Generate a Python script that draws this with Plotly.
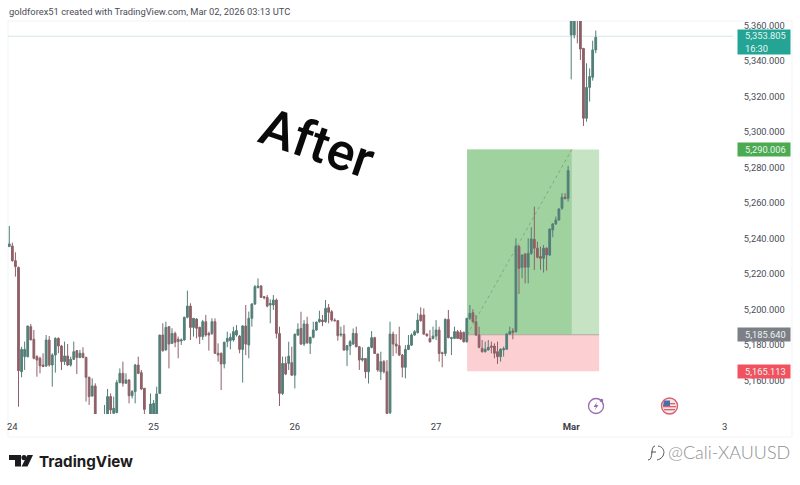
import plotly.graph_objects as go

opens = [5235.3,5235.6,5227.4,5223.6,5164.8,5173.3,5173.3,5190.2,5183.1,5173.3,
5172.4,5168.6,5168.0,5182.7,5168.6,5174.2,5183.6,5179.3,5170.5,5173.7,
5168.6,5171.8,5176.7,5172.9,5175.2,5172.9,5161.7,5151.1,5156.8,5135.0,
5131.0,5135.0,5139.5,5150.8,5141.4,5141.8,5158.7,5163.9,5158.3,5160.2,
5151.3,5153.6,5168.6,5164.3,5155.5,5138.0,5137.5,5138.0,5138.0,5152.6,
5185.5,5177.1,5190.2,5180.8,5186.4,5183.1,5182.1,5182.7,5195.5,5201.8,
5189.8,5194.5,5189.8,5184.6,5193.0,5186.4,5186.4,5193.0,5175.2,5175.2,
5169.2,5181.8,5182.3,5182.7,5185.5,5184.9,5177.4,5190.6,5179.9,5194.9,
5203.0,5212.2,5213.1,5207.1,5206.7,5202.4,5202.4,5205.2,5186.4,5152.6,
5169.5,5169.5,5169.9,5162.9,5185.5,5189.2,5180.4,5191.7,5180.8,5184.2,
5188.3,5193.0,5193.9,5193.0,5200.9,5198.6,5193.9,5193.6,5185.5,5186.0,
5177.0,5179.3,5180.4,5186.4,5178.9,5171.4,5172.3,5164.8,5178.5,5184.0,
5174.8,5164.8,5170.5,5164.8,5141.7,5186.0,5180.4,5179.5,5174.2,5167.3,
5177.4,5179.8,5185.5,5186.8,5196.8,5196.8,5186.0,5183.6,5183.6,5184.9,
5188.3,5175.5,5175.1,5194.3,5183.6,5183.6,5187.4,5187.0,5187.0,5181.7,
5194.9,5198.1,5193.0,5185.5,5178.0,5176.1,5177.1,5179.3,5179.3,5176.1,
5173.3,5177.1,5177.5,5186.1,5187.8,5187.4,5235.3,5223.7,5231.2,5223.7,
5231.5,5239.4,5234.4,5229.7,5228.7,5234.4,5230.6,5244.7,5248.1,5250.3,
5256.9,5263.1,5262.5,5354.5,5354.5,5368.0,5366.0,5347.0,5307.6,5325.0,
5330.7,5346.1]

highs = [5246.9,5237.5,5232.1,5224.0,5178.9,5181.8,5190.6,5191.7,5188.3,5174.2,
5173.3,5175.2,5185.5,5184.9,5175.2,5184.2,5184.2,5179.9,5181.8,5180.4,
5173.3,5181.8,5177.1,5177.1,5178.6,5173.3,5162.0,5161.1,5158.3,5139.0,
5138.0,5146.1,5155.1,5152.6,5150.8,5160.2,5166.7,5170.5,5163.9,5160.5,
5154.5,5169.2,5173.3,5165.8,5155.5,5140.0,5152.6,5148.9,5156.4,5185.5,
5192.1,5193.0,5190.2,5189.3,5187.4,5184.6,5183.6,5195.8,5210.5,5203.4,
5194.9,5194.9,5190.2,5194.0,5196.8,5187.4,5194.9,5194.9,5180.8,5175.6,
5181.8,5187.4,5186.4,5190.2,5191.1,5185.5,5191.1,5202.4,5198.7,5203.4,
5213.7,5217.4,5213.7,5207.5,5208.0,5205.6,5208.0,5206.1,5190.2,5173.3,
5173.3,5181.7,5178.9,5186.4,5192.1,5198.6,5193.9,5195.8,5184.5,5193.0,
5193.0,5199.2,5196.8,5205.2,5203.0,5199.6,5194.9,5193.9,5190.2,5191.1,
5179.8,5182.7,5189.2,5190.2,5179.3,5178.5,5172.3,5178.9,5187.7,5184.5,
5175.1,5176.1,5171.4,5171.4,5193.0,5187.4,5186.0,5190.2,5174.8,5179.8,
5185.5,5186.4,5188.3,5197.7,5201.1,5200.5,5186.4,5188.3,5190.2,5193.9,
5190.2,5176.1,5194.9,5199.6,5184.5,5190.2,5188.3,5188.3,5187.4,5194.9,
5202.4,5200.0,5196.8,5190.2,5182.7,5181.8,5182.7,5181.8,5180.8,5181.8,
5178.0,5179.0,5186.5,5190.2,5189.3,5240.0,5236.2,5230.6,5231.5,5240.0,
5246.2,5257.8,5238.1,5235.3,5236.2,5234.9,5245.6,5248.5,5252.2,5256.9,
5265.4,5265.4,5280.8,5372.0,5374.0,5373.0,5369.0,5347.0,5338.6,5335.7,
5351.3,5357.0]

lows = [5235.3,5226.8,5218.4,5145.1,5161.7,5165.8,5172.9,5182.7,5171.8,5162.0,
5163.9,5167.7,5167.7,5167.7,5156.4,5164.3,5175.2,5165.8,5168.6,5168.0,
5167.7,5171.4,5163.5,5172.4,5172.4,5148.0,5146.1,5150.8,5132.0,5128.0,
5127.0,5132.0,5137.0,5138.0,5140.0,5141.4,5158.3,5156.4,5158.3,5147.0,
5149.8,5147.0,5163.5,5154.5,5139.5,5132.0,5137.0,5136.0,5136.0,5152.6,
5176.1,5176.7,5166.7,5180.4,5178.6,5172.4,5179.9,5182.3,5194.9,5182.7,
5184.6,5183.6,5180.4,5182.7,5184.6,5176.7,5185.5,5174.8,5170.5,5154.5,
5166.7,5178.6,5177.4,5181.8,5184.6,5175.2,5158.7,5174.2,5172.4,5190.2,
5202.4,5211.8,5206.7,5205.6,5201.1,5192.1,5199.6,5183.6,5145.5,5151.7,
5162.9,5165.8,5162.4,5155.4,5184.9,5179.8,5179.3,5180.4,5174.8,5183.6,
5187.9,5192.4,5190.5,5192.4,5192.1,5193.0,5193.0,5182.3,5184.5,5176.7,
5168.0,5174.2,5179.8,5178.5,5165.8,5170.5,5161.1,5158.2,5178.0,5174.8,
5164.8,5160.1,5163.9,5140.4,5141.0,5173.6,5175.1,5173.6,5161.6,5161.1,
5177.0,5179.3,5185.1,5186.4,5193.0,5185.5,5184.5,5181.2,5183.0,5182.7,
5170.5,5167.3,5173.6,5183.6,5174.2,5183.2,5183.2,5182.7,5181.2,5181.2,
5194.0,5192.5,5185.0,5178.0,5175.6,5175.6,5176.7,5175.2,5172.4,5169.2,
5170.5,5173.3,5177.1,5185.5,5183.1,5186.9,5208.6,5217.5,5214.6,5214.6,
5230.6,5222.2,5228.7,5222.2,5220.7,5221.8,5230.0,5240.6,5247.5,5249.9,
5256.0,5262.0,5260.7,5329.5,5352.6,5349.8,5340.4,5303.3,5305.7,5317.0,
5328.8,5344.2]

closes = [5236.8,5227.4,5224.0,5165.4,5177.4,5177.4,5190.6,5182.7,5172.4,5171.4,
5168.2,5167.7,5182.7,5168.6,5174.2,5183.6,5179.3,5170.5,5173.7,5168.6,
5171.8,5176.1,5172.9,5175.2,5172.9,5161.7,5150.8,5156.8,5135.0,5131.0,
5136.0,5138.0,5150.8,5143.3,5144.2,5158.7,5163.9,5158.3,5160.2,5151.3,
5153.6,5168.6,5163.9,5155.1,5143.6,5134.0,5146.6,5147.0,5152.3,5185.5,
5176.7,5189.8,5180.4,5186.4,5181.4,5181.8,5182.7,5195.5,5201.8,5189.8,
5194.9,5189.3,5184.6,5193.0,5185.5,5185.5,5193.0,5175.2,5174.2,5169.2,
5181.4,5183.6,5184.2,5187.4,5188.0,5177.4,5190.6,5180.4,5194.9,5203.0,
5212.7,5213.1,5206.7,5206.5,5201.8,5203.3,5205.2,5186.4,5152.6,5169.5,
5163.5,5173.6,5162.9,5185.9,5188.7,5180.4,5191.7,5181.2,5184.2,5188.3,
5192.8,5194.3,5193.0,5200.5,5198.3,5193.9,5193.6,5185.1,5186.0,5177.0,
5179.5,5181.7,5186.4,5178.9,5171.4,5172.3,5164.8,5178.5,5184.0,5175.1,
5165.8,5170.5,5164.8,5141.3,5186.0,5180.4,5179.3,5174.2,5167.3,5177.4,
5179.8,5185.5,5187.4,5193.9,5193.6,5186.0,5185.1,5181.7,5184.9,5188.3,
5175.1,5175.1,5194.3,5184.0,5184.0,5187.4,5183.6,5183.2,5181.7,5194.9,
5197.7,5193.0,5185.5,5178.6,5176.1,5177.5,5178.6,5178.6,5175.2,5173.3,
5177.5,5177.8,5186.1,5187.4,5186.9,5235.7,5223.1,5230.6,5223.7,5231.5,
5239.6,5234.4,5229.3,5228.7,5234.4,5230.6,5245.1,5248.1,5250.3,5256.5,
5263.1,5262.3,5278.1,5368.0,5370.0,5366.0,5346.6,5307.6,5325.0,5331.1,
5346.1,5353.2]

bars = list(range(len(opens)))
y_ticks = [5160, 5180, 5200, 5220, 5240, 5260, 5280, 5300, 5320, 5340, 5360]
x_tick_bars = [1, 47, 93, 139, 183, 233]
x_tick_text = ["24", "25", "26", "27", "<b>Mar</b>", "3"]

last_price = 5353.805
target_price = 5290.006
entry_price = 5185.640
stop_price = 5165.113
box_start, box_mid, box_end = 149.1, 183.2, 192.1

PL, PR, PT, PB = 8, 733, 21, 414
def X(px): return (px - PL) / (PR - PL)
def Y(py): return 1 - (py - PT) / (PB - PT)

fig = go.Figure(go.Candlestick(
    x=bars, open=opens, high=highs, low=lows, close=closes,
    increasing=dict(line=dict(color="#527f78", width=1), fillcolor="#527f78"),
    decreasing=dict(line=dict(color="#8f6067", width=1), fillcolor="#8f6067"),
    whiskerwidth=0, showlegend=False, hoverinfo="skip"))

shapes = [
    dict(type="rect", x0=box_start, x1=box_end, y0=entry_price, y1=target_price,
         fillcolor="#c6e4c4", line_width=0, layer="below"),
    dict(type="rect", x0=box_start, x1=box_mid, y0=entry_price, y1=target_price,
         fillcolor="#a0d2a0", line_width=0, layer="below"),
    dict(type="rect", x0=box_start, x1=box_end, y0=stop_price, y1=entry_price,
         fillcolor="#fcd0d3", line_width=0, layer="below"),
    dict(type="line", x0=box_start, x1=box_end, y0=entry_price, y1=entry_price,
         line=dict(color="#b0a8a0", width=1), layer="below"),
    dict(type="line", x0=box_start, x1=box_mid, y0=entry_price, y1=target_price,
         line=dict(color="#7fa882", width=1, dash="dot"), layer="below"),
    dict(type="line", x0=-0.42, x1=235.7, y0=last_price, y1=last_price,
         line=dict(color="#cfe9e5", width=1), layer="below"),
]
# chart frame
frame = "#f1f3f8"
for a, b, c, d in [(8, 21, 792, 21), (8, 437, 792, 437), (8, 21, 8, 437), (792, 21, 792, 437)]:
    shapes.append(dict(type="line", xref="paper", yref="paper", x0=X(a), x1=X(c), y0=Y(b), y1=Y(d),
                       line=dict(color=frame, width=1), layer="below"))

def path(points, **kw):
    d = "M " + " L ".join(f"{X(x)} {Y(y)}" for x, y in points) + " Z"
    return dict(type="path", xref="paper", yref="paper", path=d, line_width=0, **kw)

def circle(cx, cy, r, **kw):
    return dict(type="circle", xref="paper", yref="paper", x0=X(cx - r), x1=X(cx + r),
                y0=Y(cy + r), y1=Y(cy - r), **kw)

# TradingView logo
ink = "#1c1c20"
shapes += [
    path([(9, 455), (21, 455), (21, 466.5), (15, 466.5), (15, 460), (9, 460)], fillcolor=ink),
    circle(24, 457.6, 2.6, fillcolor=ink, line_width=0),
    path([(27.5, 455), (33, 455), (27.5, 466.5), (21.5, 466.5)], fillcolor=ink),
]
# event icons
purple = "#9a6bb0"
shapes += [
    circle(596, 406, 7.5, line=dict(color=purple, width=1.3), fillcolor="white"),
    path([(597.5, 401.5), (593.5, 407), (596, 407), (594.5, 410.5), (598.5, 405), (596, 405)], fillcolor=purple),
    circle(601.5, 400.5, 1.8, fillcolor=purple, line_width=0),
    circle(669.5, 406, 8, line=dict(color="#d9606c", width=1.4), fillcolor="#f6e6e8"),
    path([(664, 403), (675, 403), (675, 404.3), (664, 404.3)], fillcolor="#d9606c"),
    path([(663, 406), (676, 406), (676, 407.3), (663, 407.3)], fillcolor="#d9606c"),
    path([(664, 409), (675, 409), (675, 410.3), (664, 410.3)], fillcolor="#d9606c"),
    path([(664, 400.5), (670, 400.5), (670, 406), (663, 406)], fillcolor="#4a6ea8"),
]
# watermark glyph
shapes.append(dict(type="path", xref="paper", yref="paper",
    path=(f"M {X(655)} {Y(446)} C {X(650)} {Y(446)} {X(654)} {Y(460)} {X(648)} {Y(460)} "
          f"M {X(651)} {Y(452)} L {X(656)} {Y(452)} "
          f"M {X(658)} {Y(446)} C {X(666)} {Y(447)} {X(666)} {Y(458)} {X(657)} {Y(460)}"),
    line=dict(color="#555", width=1)))

fig.update_layout(
    width=800, height=485, autosize=False, dragmode=False,
    margin=dict(l=PL, r=800 - PR, t=PT, b=485 - PB, pad=0),
    paper_bgcolor="white", plot_bgcolor="white", boxgap=0.18,
    font=dict(family="Roboto, Liberation Sans, sans-serif", color="#4a4d57"),
    shapes=shapes,
    xaxis=dict(range=[-0.42, 235.7], rangeslider=dict(visible=False), showgrid=False, zeroline=False,
               showline=False, tickmode="array", tickvals=x_tick_bars, ticktext=x_tick_text,
               ticks="outside", ticklen=4, tickcolor="rgba(0,0,0,0)",
               tickfont=dict(size=9.5, color="#3a3d47")),
    yaxis=dict(range=[5141.0, 5362.4], side="right", showgrid=False, zeroline=False, showline=False,
               tickmode="array", tickvals=y_ticks, tickformat=",.3f",
               ticks="outside", ticklen=8, tickcolor="rgba(0,0,0,0)",
               tickfont=dict(size=9.3, color="#4a4d57")),
)

INDENT = "&nbsp;&nbsp;&nbsp;"

def price_tag(price, label, color, h=13, shift=0):
    fig.add_annotation(xref="paper", yref="y", x=X(736.7), y=price, xanchor="left", yanchor="middle",
                       yshift=shift, text=label, showarrow=False, bgcolor=color, width=51.6, height=h,
                       align="left", borderpad=0, font=dict(size=9.3, color="#e8f5f2"))

price_tag(entry_price, INDENT + "5,185.640", "#7d7f86")
price_tag(stop_price, INDENT + "5,165.113", "#f2525f")
price_tag(target_price, INDENT + "5,290.006", "#4cab50")
price_tag(last_price, INDENT + "5,353.805<br>" + INDENT + "16:30", "#23a494", h=24, shift=-6)

def text(px, py, s, size, color, family="Roboto", anchor="left", angle=0, weight=None):
    font = dict(size=size, color=color, family=family)
    if weight:
        font["weight"] = weight
    fig.add_annotation(xref="paper", yref="paper", x=X(px), y=Y(py), xanchor=anchor, yanchor="middle",
                       text=s, showarrow=False, textangle=angle, font=font)

text(7, 11.5, "goldforex51 created with TradingView.com, Mar 02, 2026 03:13 UTC", 9.35, "#4a4d57")
text(317, 143, "After", 52, "#0a0a0a", "Roboto", "center", 19, 500)
text(37, 461, "<b>TradingView</b>", 15.2, "#1c1c20", "Inter")
text(666, 452, "@Cali-XAUUSD", 18, "#8f8f8f", "Lato", weight=300)

fig.write_html("out.html", post_script="document.body.style.margin='0';",
               config={"displayModeBar": False})
